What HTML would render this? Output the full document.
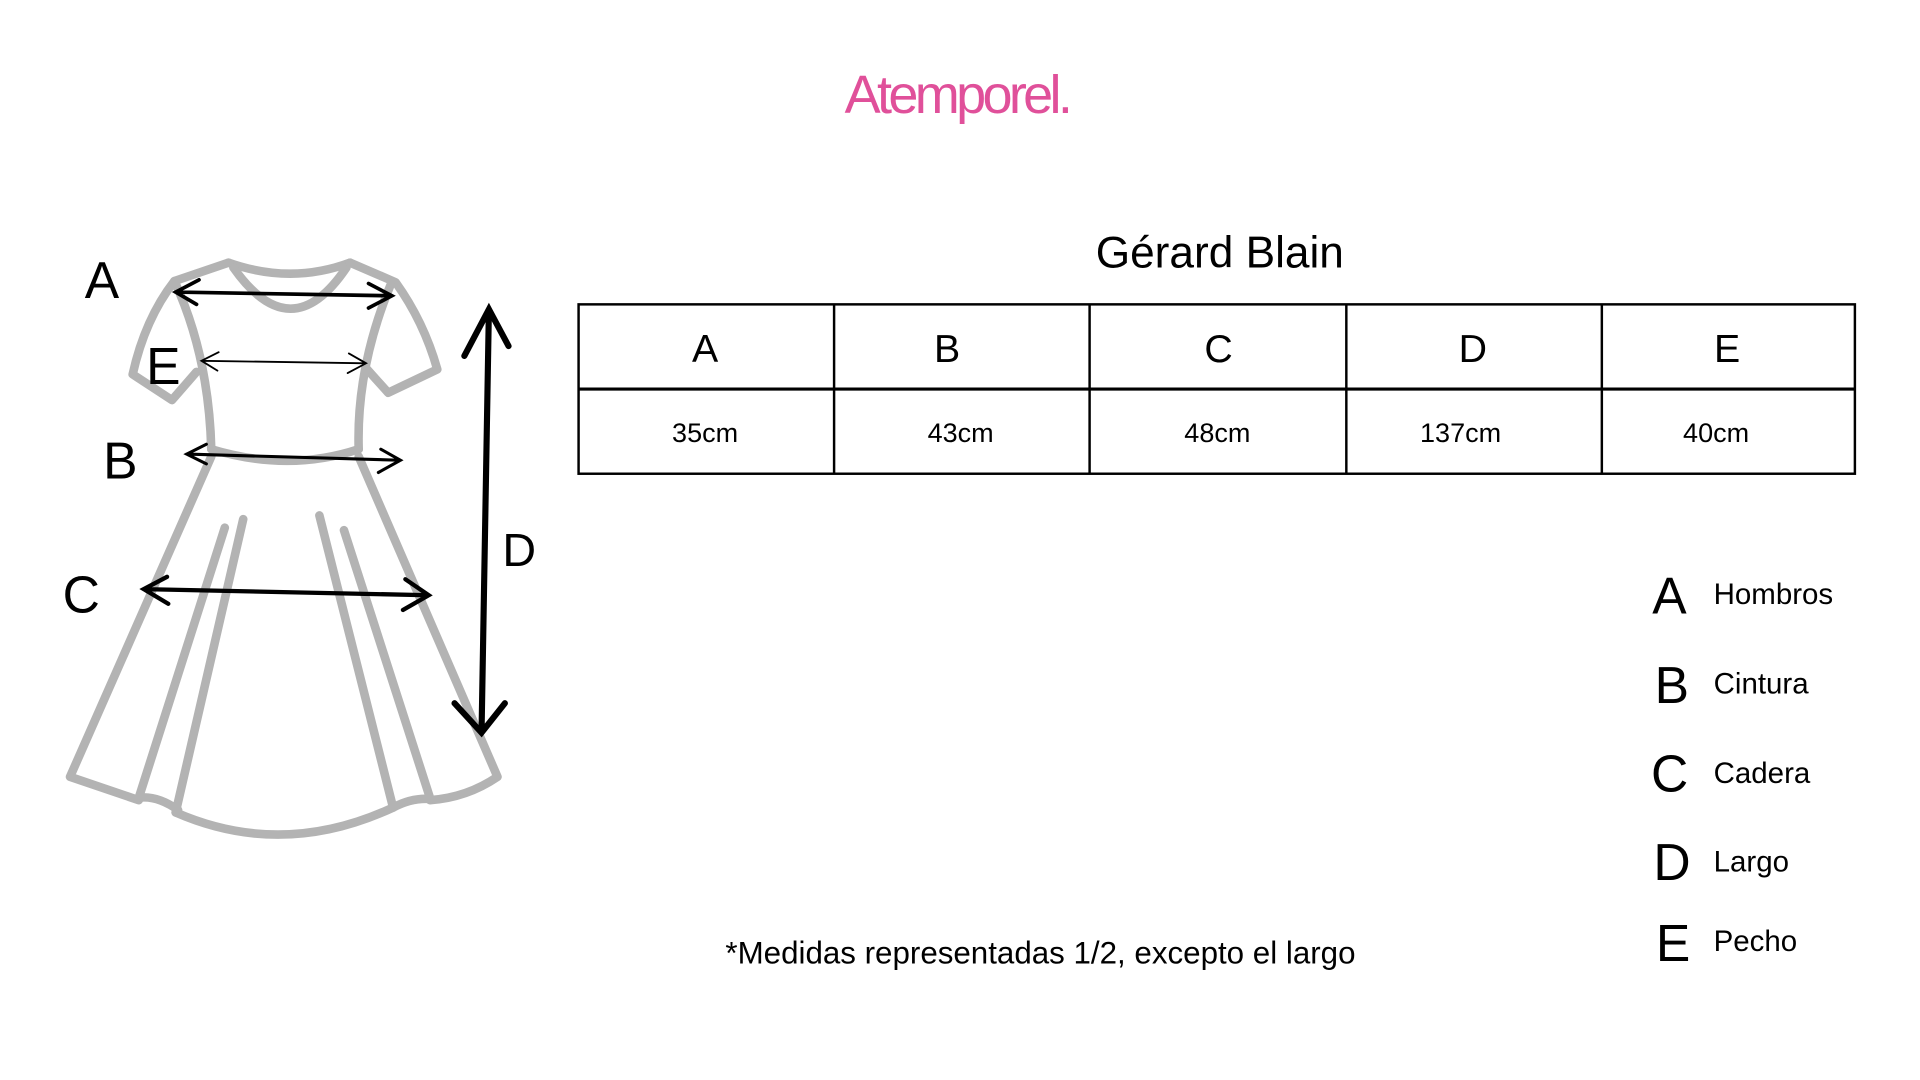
<!DOCTYPE html>
<html><head><meta charset="utf-8"><style>
html,body{margin:0;padding:0;background:#fff;width:1920px;height:1080px;overflow:hidden}
svg{display:block}
text{font-family:"Liberation Sans",sans-serif;fill:#000}
</style></head><body>
<svg width="1920" height="1080" viewBox="0 0 1563 880" preserveAspectRatio="none">
<rect width="1563" height="880" fill="#fff"/>
<text x="779" y="92" text-anchor="middle" font-size="44" letter-spacing="-3" style="fill:#e0509a">Atemporel.</text>
<text x="993" y="218" text-anchor="middle" font-size="36">Gérard Blain</text>
<g stroke="#000" stroke-width="2" fill="none">
<rect x="471" y="248" width="1039" height="138"/>
<line x1="471" y1="317" x2="1510" y2="317" stroke-width="2.5"/>
<line x1="679" y1="248" x2="679" y2="386"/>
<line x1="887" y1="248" x2="887" y2="386"/>
<line x1="1096" y1="248" x2="1096" y2="386"/>
<line x1="1304" y1="248" x2="1304" y2="386"/>
</g>
<g font-size="32" text-anchor="middle">
<text x="574" y="295">A</text><text x="771" y="295">B</text><text x="992" y="295">C</text><text x="1199" y="295">D</text><text x="1406" y="295">E</text>
</g>
<g font-size="22" text-anchor="middle">
<text x="574" y="360">35cm</text><text x="782" y="360">43cm</text><text x="991" y="360">48cm</text><text x="1189" y="360">137cm</text><text x="1397" y="360">40cm</text>
</g>
<g font-size="42" font-weight="300">
<text x="1345" y="500">A</text><text x="1347" y="573">B</text><text x="1344" y="645">C</text><text x="1346" y="717">D</text><text x="1348" y="783">E</text>
</g>
<g font-size="24">
<text x="1395" y="492">Hombros</text><text x="1395" y="565">Cintura</text><text x="1395" y="638">Cadera</text><text x="1395" y="710">Largo</text><text x="1395" y="775">Pecho</text>
</g>
<text x="847" y="785" text-anchor="middle" font-size="25.5">*Medidas representadas 1/2, excepto el largo</text>
<!-- dress -->
<g stroke="#b3b3b3" stroke-width="7" fill="none" stroke-linecap="round" stroke-linejoin="round">
<path d="M186 214 Q237 232 285 214"/>
<path d="M190 218 Q237 285 282 218"/>
<path d="M186 214 L142 229 Q118 260 108 305 L140 326 L160 303"/>
<path d="M142 229 Q170 290 172 366"/>
<path d="M285 214 L322 230 Q345 262 356 301 L316 320 L298 300"/>
<path d="M318 232 Q290 300 292 366"/>
<path d="M172 366 Q235 385 292 366"/>
<path d="M172 372 L57 633 L113 652"/>
<path d="M292 372 L405 633 Q380 650 350 652"/>
<path d="M113 650 Q128 648 145 660"/>
<path d="M143 662 Q230 700 320 658"/>
<path d="M320 658 Q335 650 350 651"/>
<path d="M183 430 L113 650"/>
<path d="M198 423 L143 662"/>
<path d="M260 420 L320 658"/>
<path d="M280 432 L350 650"/>
</g>
<g stroke="#000" fill="none" stroke-linecap="round">
<path d="M143 238 L319 241 M162 228 L143 238 L160 248 M300 231 L319 241 L300 251" stroke-width="3"/>
<path d="M164 294 L298 296 M178 287 L164 294 L177 302 M284 288 L298 296 L283 304" stroke-width="1.5"/>
<path d="M152 370 L326 375 M168 362 L152 370 L168 378 M310 366 L326 375 L308 385" stroke-width="2.5"/>
<path d="M117 480 L349 485 M136 470 L117 480 L137 492 M330 472 L349 485 L328 497" stroke-width="3.5"/>
<path d="M398 252 L392 597 M378 290 L398 252 L414 282 M370 573 L392 597 L411 573" stroke-width="5"/>
</g>
<g font-size="42" font-weight="300">
<text x="69" y="243">A</text><text x="119" y="313">E</text><text x="84" y="390">B</text><text x="51" y="499">C</text>
</g>
<text x="409" y="461" font-size="38">D</text>
</svg>
</body></html>
